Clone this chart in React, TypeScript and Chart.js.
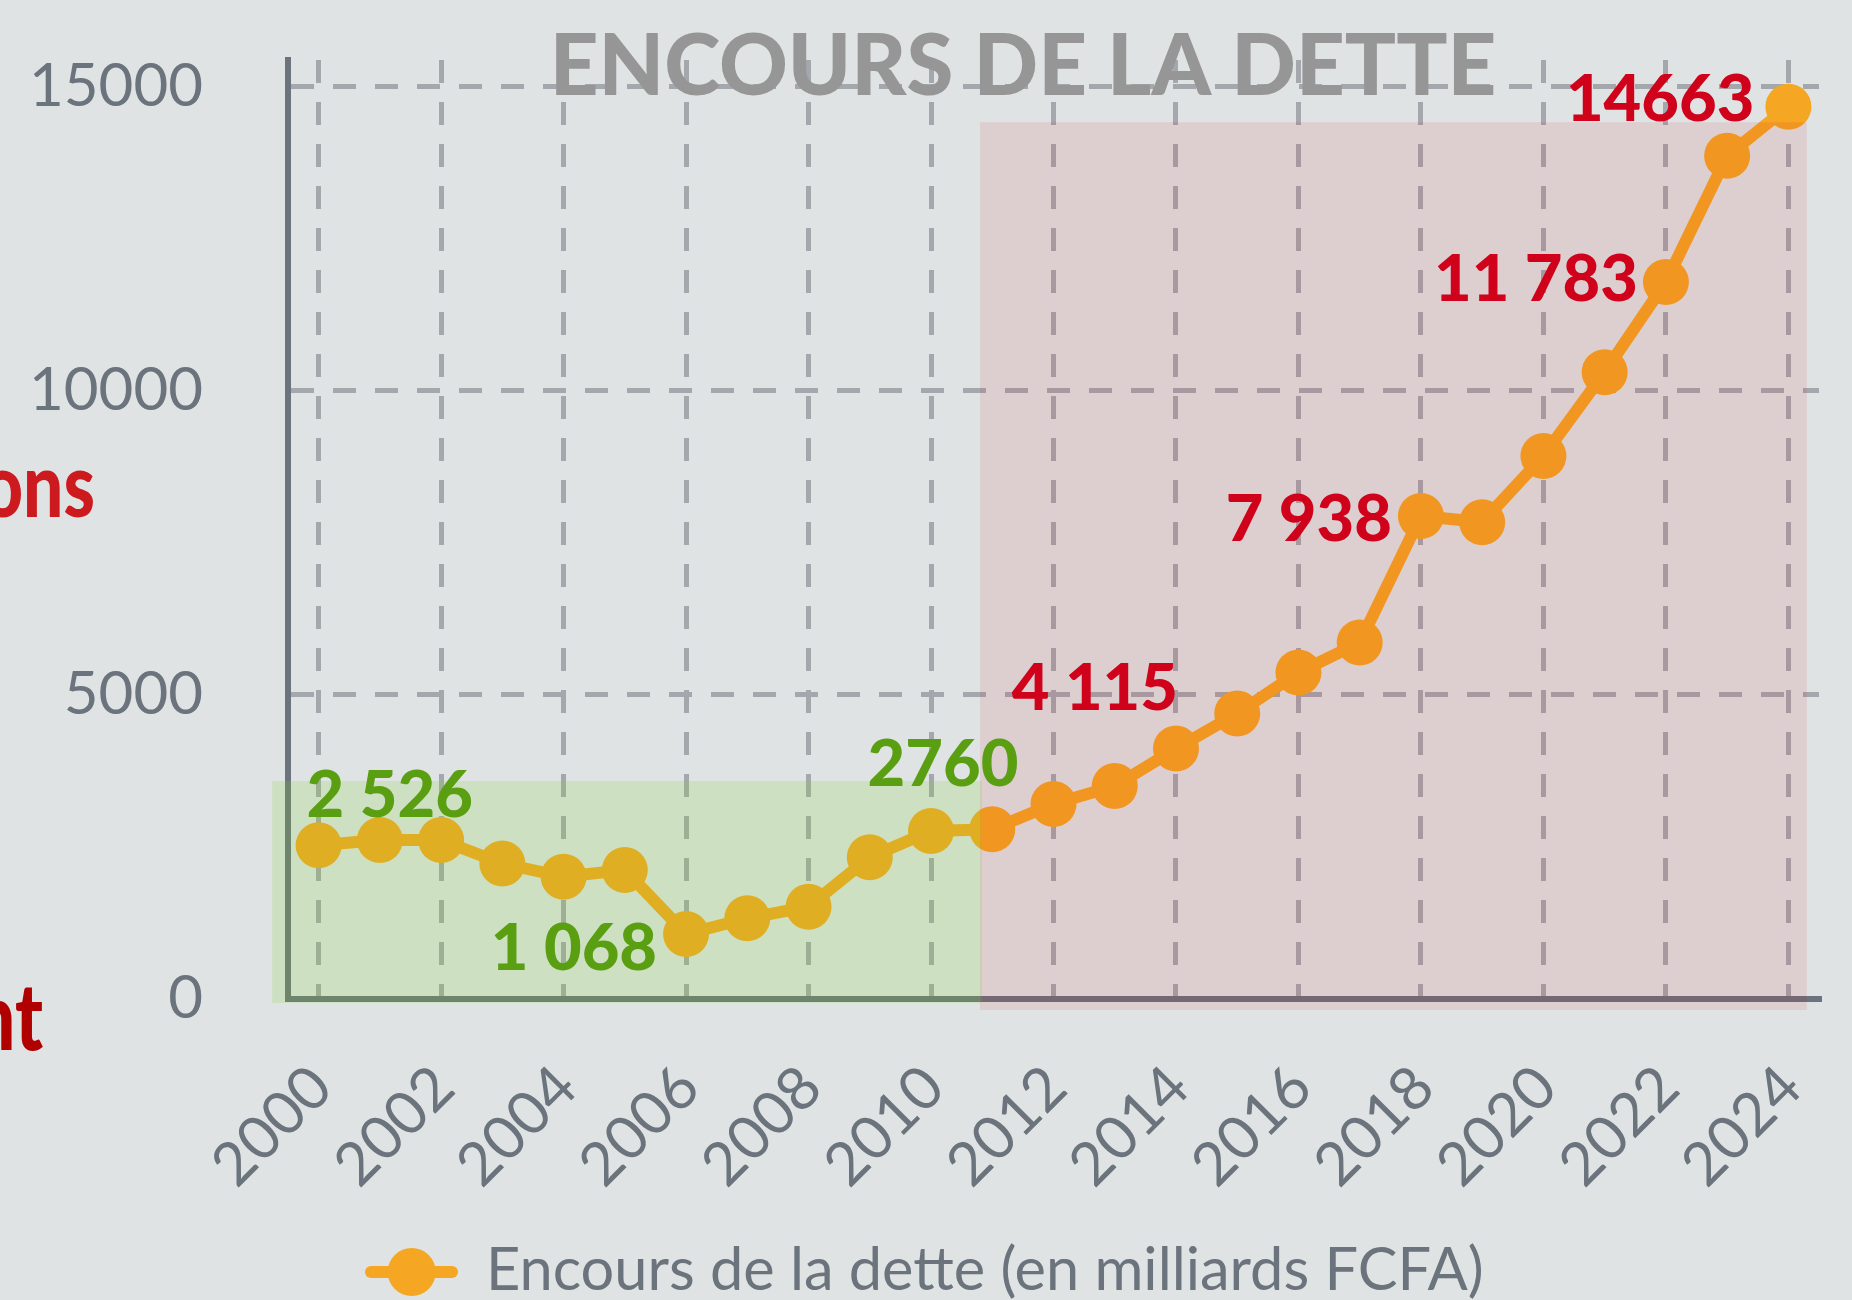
import React, { useEffect, useRef } from 'react';
import { Chart, registerables } from 'chart.js';

Chart.register(...registerables);

// ---------- data ----------
const years = [
  '2000', '2001', '2002', '2003', '2004', '2005', '2006', '2007', '2008', '2009',
  '2010', '2011', '2012', '2013', '2014', '2015', '2016', '2017', '2018', '2019',
  '2020', '2021', '2022', '2023', '2024',
];
const debt = [
  2526, 2612, 2612, 2226, 2009, 2119, 1068, 1326, 1517, 2330,
  2760, 2790, 3204, 3499, 4115, 4692, 5365, 5857, 7938, 7835,
  8922, 10301, 11783, 13855, 14663,
];
const yTickValues = [0, 5000, 10000, 15000];
const seriesLabel = 'Encours de la dette (en milliards FCFA)';
const chartTitle = 'ENCOURS DE LA DETTE';
const labelYears = ['2000', '2006', '2010', '2014', '2018', '2022', '2024'];
const labelTexts = ['2 526', '1 068', '2760', '4 115', '7 938', '11 783', '14663'];
const sideFragments = ['ons', 'nt'];

// ---------- styles ----------
const BG = '#dfe3e3';
const ORANGE = '#f5a623';
const AXIS = '#6b747c';
const GRID = '#a4a8ad';
const TICK = '#6b737c';
const GREEN = '#5a9e12';
const RED = '#d0021b';
const FONT = 'Lato, "Noto Sans", sans-serif';
const CLEAR = 'rgba(0,0,0,0)';

// label placement: align, dx, dy (baseline) relative to the point
const labelStyle = [
  { color: GREEN, align: 'left', dx: -12, dy: -28 },
  { color: GREEN, align: 'right', dx: -29, dy: 36 },
  { color: GREEN, align: 'center', dx: 12, dy: -45 },
  { color: RED, align: 'right', dx: 2, dy: -39 },
  { color: RED, align: 'right', dx: -29, dy: 25 },
  { color: RED, align: 'right', dx: -28, dy: 19 },
  { color: RED, align: 'right', dx: -34, dy: 14 },
];

// shaded periods in data space (category index units, value units)
const zones = [
  { x0: -0.76, x1: 10.83, y0: -66, y1: 3582, color: 'rgba(126,211,33,0.17)' },
  { x0: 10.8, x1: 24.3, y0: -181, y1: 14408, color: 'rgba(208,2,27,0.09)' },
];

const decorPlugin = {
  id: 'decor',
  beforeDraw(chart: any) {
    const { ctx, width, height } = chart;
    ctx.save();
    ctx.fillStyle = BG;
    ctx.fillRect(0, 0, width, height);
    ctx.restore();
  },
  afterDatasetsDraw(chart: any) {
    const { ctx } = chart;
    const xs = chart.scales.x;
    const ys = chart.scales.y;
    ctx.save();
    zones.forEach((z) => {
      const l = xs.getPixelForValue(z.x0);
      const r = xs.getPixelForValue(z.x1);
      const t = ys.getPixelForValue(z.y1);
      const b = ys.getPixelForValue(z.y0);
      ctx.fillStyle = z.color;
      ctx.fillRect(l, t, r - l, b - t);
    });
    ctx.restore();
  },
  afterDraw(chart: any) {
    const { ctx } = chart;
    const meta = chart.getDatasetMeta(0);
    ctx.save();
    // value labels
    ctx.font = `900 65px ${FONT}`;
    ctx.textBaseline = 'alphabetic';
    labelYears.forEach((yr, i) => {
      const idx = years.indexOf(yr);
      const pt = meta.data[idx];
      const st = labelStyle[i];
      ctx.fillStyle = st.color;
      ctx.textAlign = st.align;
      ctx.fillText(labelTexts[i], pt.x + st.dx, pt.y + st.dy);
    });
    // title
    ctx.font = `900 85px ${FONT}`;
    ctx.fillStyle = '#969696';
    ctx.textAlign = 'center';
    ctx.fillText(chartTitle, 1023, 94.5);
    // legend
    const ly = 1272;
    ctx.strokeStyle = ORANGE;
    ctx.lineWidth = 12;
    ctx.lineCap = 'round';
    ctx.beginPath();
    ctx.moveTo(371, ly);
    ctx.lineTo(452, ly);
    ctx.stroke();
    ctx.fillStyle = ORANGE;
    ctx.beginPath();
    ctx.arc(411.7, ly, 24, 0, Math.PI * 2);
    ctx.fill();
    ctx.font = `400 59.5px ${FONT}`;
    ctx.fillStyle = TICK;
    ctx.textAlign = 'left';
    ctx.fillText(seriesLabel, 486, 1290);
    // cut-off side fragments
    ctx.textAlign = 'right';
    ctx.save();
    ctx.translate(95, 517);
    ctx.scale(0.8, 1);
    ctx.font = `900 89px ${FONT}`;
    ctx.fillStyle = '#cc1a1e';
    ctx.fillText(sideFragments[0], 0, 0);
    ctx.restore();
    ctx.save();
    ctx.translate(43, 1050);
    ctx.scale(0.8, 1);
    ctx.font = `900 93px ${FONT}`;
    ctx.fillStyle = '#b00000';
    ctx.fillText(sideFragments[1], 0, 0);
    ctx.restore();
    ctx.restore();
  },
};

export default function App() {
  const canvasRef = useRef<HTMLCanvasElement | null>(null);

  useEffect(() => {
    document.body.style.margin = '0';
    document.body.style.overflow = 'hidden';
    const canvas = canvasRef.current;
    if (!canvas) return;
    const chart = new Chart(canvas, {
      type: 'line',
      data: {
        labels: years,
        datasets: [
          {
            label: seriesLabel,
            data: debt,
            borderColor: ORANGE,
            backgroundColor: ORANGE,
            borderWidth: 12,
            pointRadius: 23,
            pointHoverRadius: 23,
            pointBorderWidth: 0,
            pointBackgroundColor: ORANGE,
            tension: 0,
            fill: false,
          },
        ],
      },
      options: {
        responsive: false,
        animation: false,
        events: [],
        devicePixelRatio: 1,
        layout: { padding: { top: 60, right: 33, left: 0, bottom: 0 } },
        plugins: {
          legend: { display: false },
          title: { display: false },
          tooltip: { enabled: false },
        },
        scales: {
          x: {
            type: 'category',
            offset: true,
            grid: {
              color: (c: any) => (c.index % 2 === 0 ? GRID : CLEAR),
              lineWidth: 5,
              drawTicks: true,
              tickLength: 53,
              tickColor: CLEAR,
            },
            border: { display: true, color: AXIS, width: 6, dash: [23, 19] },
            ticks: {
              autoSkip: false,
              minRotation: 45,
              maxRotation: 45,
              padding: 0,
              labelOffset: 3,
              color: TICK,
              font: { family: FONT, size: 60, weight: '400' },
              callback: (_v: any, i: number) => (i % 2 === 0 ? years[i] : ''),
            },
            afterFit: (s: any) => {
              s.height = 301;
            },
          },
          y: {
            type: 'linear',
            min: 0,
            max: 15430,
            grid: {
              color: GRID,
              lineWidth: 5,
              drawTicks: true,
              tickLength: 85,
              tickColor: CLEAR,
            },
            border: { display: true, color: AXIS, width: 6, dash: [23, 19] },
            ticks: {
              stepSize: 5000,
              includeBounds: false,
              padding: 0,
              color: TICK,
              font: { family: FONT, size: 60, weight: '400' },
              callback: (v: any) => String(v),
            },
            afterBuildTicks: (s: any) => {
              s.ticks = yTickValues.map((v) => ({ value: v }));
            },
            afterFit: (s: any) => {
              s.width = 288;
            },
          },
        },
      },
      plugins: [decorPlugin],
    } as any);
    return () => chart.destroy();
  }, []);

  return (
    <div style={{ width: 1852, height: 1300, background: BG, overflow: 'hidden' }}>
      <canvas ref={canvasRef} width={1852} height={1300} style={{ display: 'block' }} />
    </div>
  );
}
